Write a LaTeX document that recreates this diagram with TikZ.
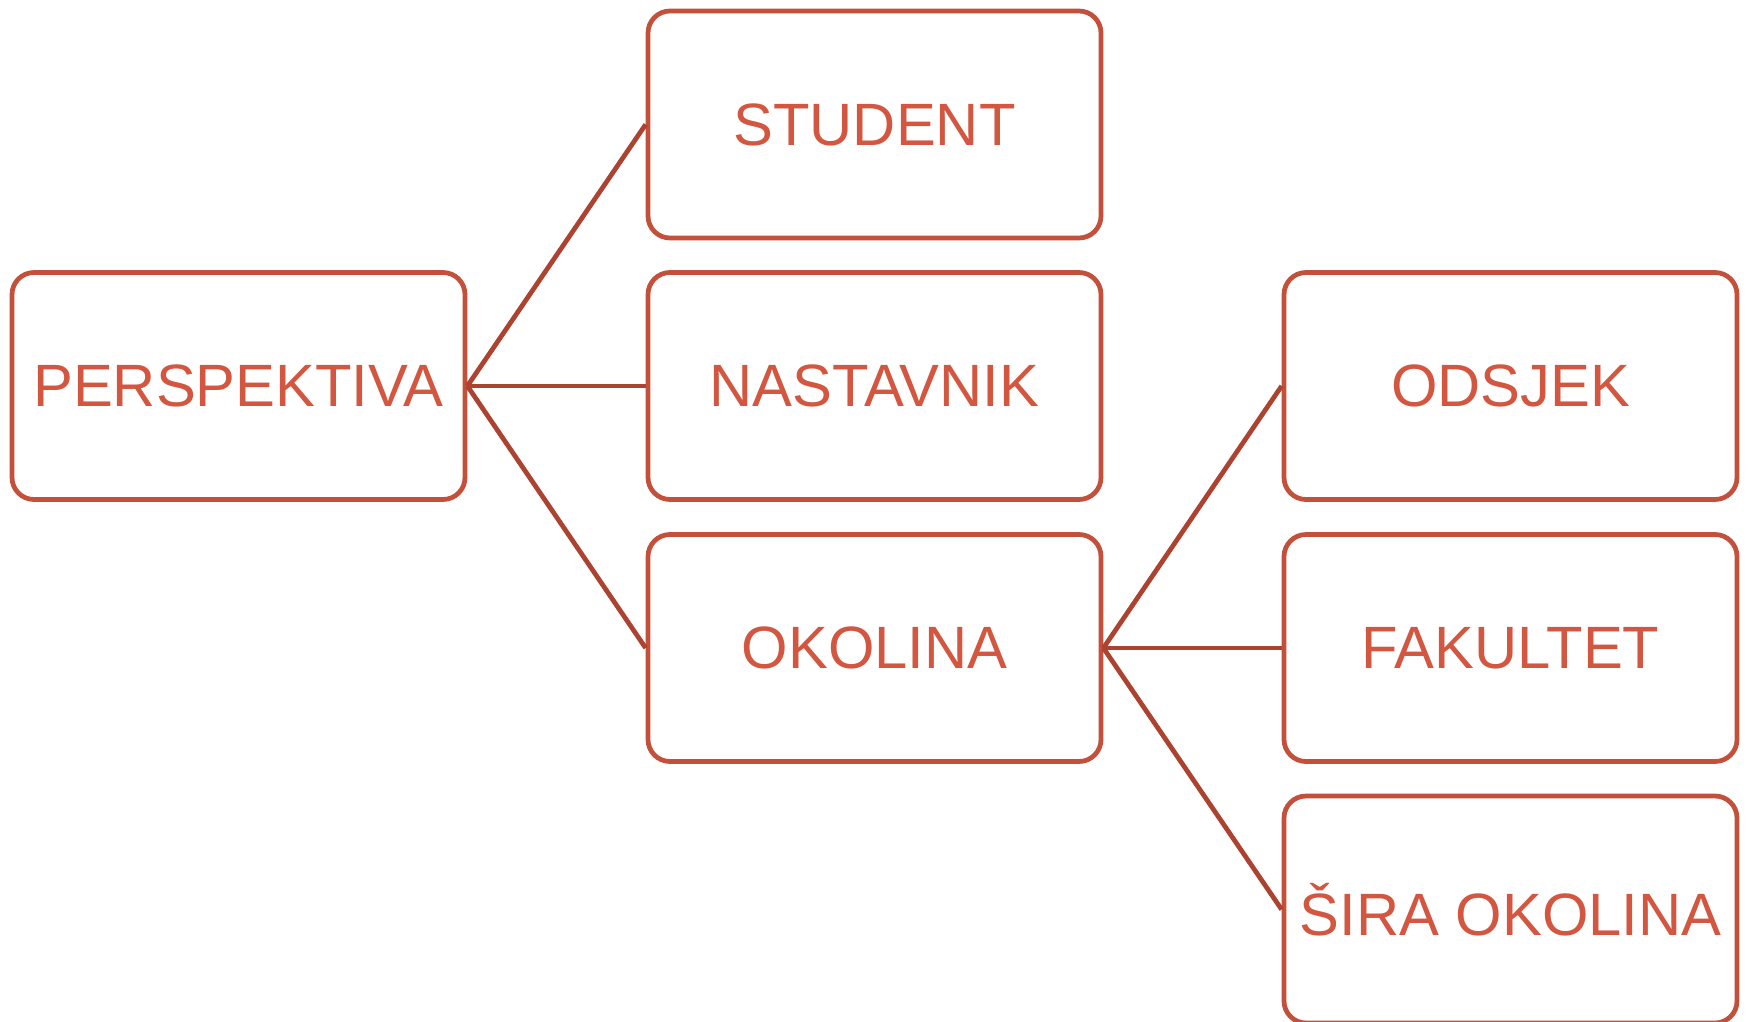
\documentclass[tikz,border=0pt]{standalone}
\usepackage{fontspec}
\setmainfont{Liberation Sans}
\usepackage{tikz}
\usetikzlibrary{arrows.meta, calc}
\definecolor{boxred}{RGB}{194,80,58}
\definecolor{textred}{RGB}{210,86,64}
\definecolor{linered}{RGB}{172,66,48}

\begin{document}
\begin{tikzpicture}
        \tikzset{BoxStyle/.style = {shape = rectangle, rounded corners = 0.22cm, draw = boxred, line width = 1.35pt, minimum width = 4.53cm, minimum height = 2.27cm, inner sep=0, text = textred, font = \fontsize{17}{20}\selectfont}}
    \useasboundingbox (0,0) rectangle (17.5,10.21);
    \node[BoxStyle] at (2.385,6.35) (persp) {PERSPEKTIVA};
    \node[BoxStyle] at (8.745,8.965) (student) {STUDENT};
    \node[BoxStyle] at (8.745,6.35) (nastavnik) {NASTAVNIK};
    \node[BoxStyle] at (8.745,3.73) (okolina) {OKOLINA};
    \node[BoxStyle] at (15.105,6.35) (odsjek) {ODSJEK};
    \node[BoxStyle] at (15.105,3.73) (fakultet) {FAKULTET};
    \node[BoxStyle] at (15.105,1.115) (sira) {ŠIRA OKOLINA};

    \path[draw,linered,line width=1.35pt]
        (persp.east) edge node {} (student.west)
        (persp.east) edge node {} (nastavnik.west)
        (persp.east) edge node {} (okolina.west)
        (okolina.east) edge node {} (odsjek.west)
        (okolina.east) edge node {} (fakultet.west)
        (okolina.east) edge node {} (sira.west)
        ;
\end{tikzpicture}
\end{document}
